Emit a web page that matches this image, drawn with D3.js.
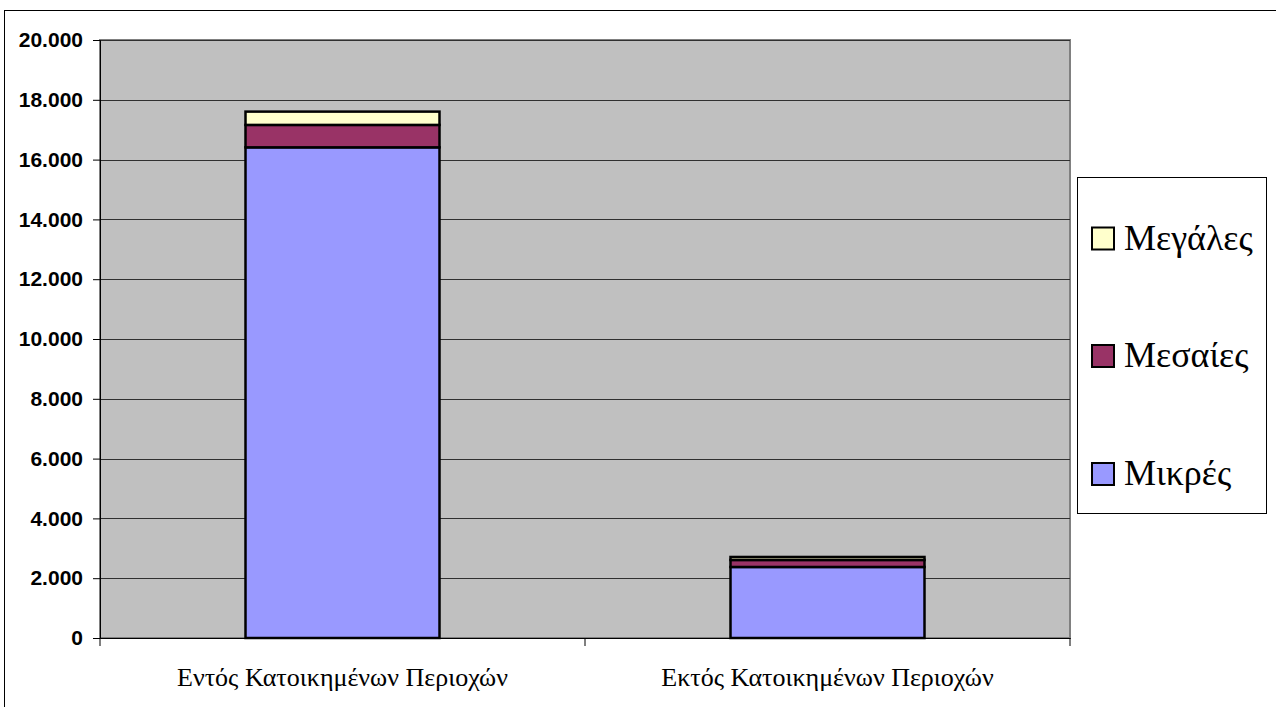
<!DOCTYPE html>
<html><head><meta charset="utf-8">
<script src="https://cdn.jsdelivr.net/npm/d3@7"></script>
<style>body{margin:0;background:#fff;}svg{display:block;}</style>
</head><body>
<script>
const categories = ["Εντός Κατοικημένων Περιοχών", "Εκτός Κατοικημένων Περιοχών"];
const seriesNames = ["Μικρές", "Μεσαίες", "Μεγάλες"];
const small = [16410, 2375];
const medium = [750, 235];
const large = [445, 100];
const yTicks = [0, 2000, 4000, 6000, 8000, 10000, 12000, 14000, 16000, 18000, 20000];
const colors = ["#9999FF", "#993366", "#FFFFCC"];

(function () {
const SERIF = "'Liberation Serif', 'DejaVu Serif', serif";
const SANS = "'Liberation Sans', Arial, sans-serif";
const W = 1276, H = 707;
const svg = d3.select("body").append("svg").attr("width", W).attr("height", H);
svg.append("rect").attr("x", 4.5).attr("y", 10.5).attr("width", W + 10).attr("height", H + 10)
  .attr("fill", "#fff").attr("stroke", "#000").attr("stroke-width", 1);

const pLeft = 100, pRight = 1070, pTop = 40, pBottom = 638;
const x = d3.scaleBand().domain(categories).range([pLeft, pRight]).padding(0);
const y = d3.scaleLinear().domain([0, 20000]).range([pBottom, pTop]);

svg.append("rect").attr("x", pLeft).attr("y", pTop).attr("width", pRight - pLeft).attr("height", pBottom - pTop)
  .attr("fill", "#C0C0C0").attr("stroke", "#808080").attr("stroke-width", 2);

// gridlines
svg.append("g").selectAll("line").data(yTicks.filter(d => d > 0)).join("line")
  .attr("x1", pLeft).attr("x2", pRight)
  .attr("y1", d => Math.round(y(d)) + 0.5).attr("y2", d => Math.round(y(d)) + 0.5)
  .attr("stroke", "#303030").attr("stroke-width", 1);

// stacked data
const rows = categories.map((c, i) => ({cat: c, "Μικρές": small[i], "Μεσαίες": medium[i], "Μεγάλες": large[i]}));
const stack = d3.stack().keys(seriesNames)(rows);
const bw = x.bandwidth() * 0.4;
const g = svg.append("g");
stack.forEach((s, si) => {
  g.selectAll(null).data(s).join("rect")
    .attr("x", d => x(d.data.cat) + (x.bandwidth() - bw) / 2)
    .attr("y", d => y(d[1]))
    .attr("width", bw)
    .attr("height", d => y(d[0]) - y(d[1]))
    .attr("fill", colors[si]).attr("stroke", "#000").attr("stroke-width", 2.5);
});

// y axis
const yAxis = svg.append("g").attr("transform", `translate(${pLeft},0)`)
  .call(d3.axisLeft(y).tickValues(yTicks).tickSize(7).tickPadding(10)
    .tickFormat(d => d3.format(",")(d).replace(/,/g, ".")));
yAxis.select(".domain").attr("stroke", "#000");
yAxis.selectAll("line").attr("stroke", "#000");
yAxis.selectAll("text").style("font-family", SANS)
  .attr("font-weight", "bold").attr("font-size", 21).attr("fill", "#000");

// x axis
const xAxis = svg.append("g").attr("transform", `translate(0,${pBottom})`)
  .call(d3.axisBottom(x).tickSize(0).tickPadding(31));
xAxis.select(".domain").attr("stroke", "#000");
xAxis.selectAll("text").style("font-family", SERIF)
  .attr("font-size", 26).attr("dy", "0.67em").attr("fill", "#000");
// category boundary ticks
svg.append("g").selectAll("line").data([pLeft, pLeft + x.step(), pRight]).join("line")
  .attr("x1", d => d).attr("x2", d => d).attr("y1", pBottom).attr("y2", pBottom + 8)
  .attr("stroke", "#000");

// legend
const lg = svg.append("g");
lg.append("rect").attr("x", 1077.5).attr("y", 177.5).attr("width", 189).attr("height", 336)
  .attr("fill", "#fff").attr("stroke", "#000").attr("stroke-width", 1);
const legendOrder = [2, 1, 0];
const legendY = [238.5, 356, 474];
legendOrder.forEach((si, k) => {
  lg.append("rect").attr("x", 1092).attr("y", legendY[k] - 11).attr("width", 22).attr("height", 22)
    .attr("fill", colors[si]).attr("stroke", "#000").attr("stroke-width", 2);
  lg.append("text").attr("x", 1124).attr("y", legendY[k] + 11)
    .style("font-family", SERIF).attr("font-size", 36)
    .attr("fill", "#000").text(seriesNames[si]);
});
})();
</script>
</body></html>
